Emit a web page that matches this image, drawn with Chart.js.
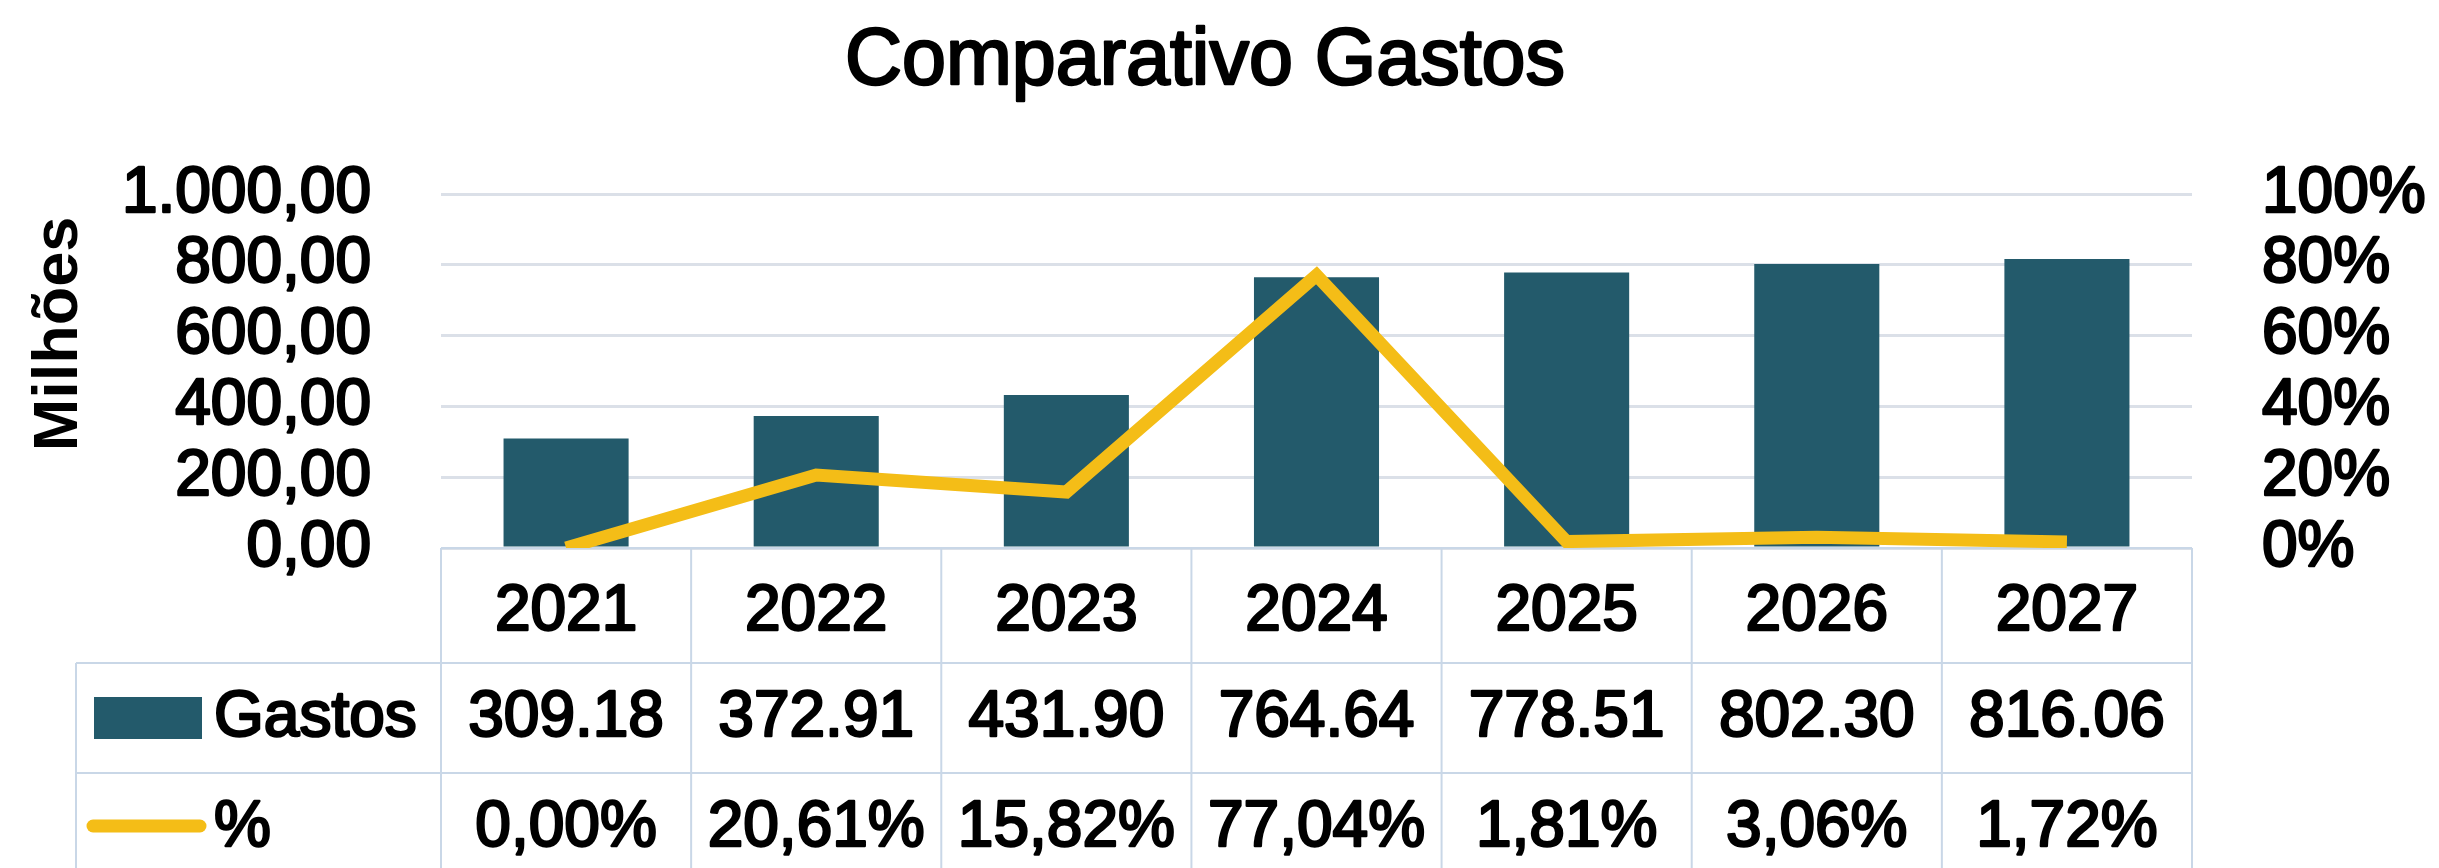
<!DOCTYPE html>
<html>
<head>
<meta charset="utf-8">
<title>Comparativo Gastos</title>
<script src="https://cdn.jsdelivr.net/npm/chart.js@4.4.1/dist/chart.umd.min.js"></script>
<style>
  html, body { margin: 0; padding: 0; background: #fff; }
  #wrap { width: 2439px; height: 868px; }
</style>
</head>
<body>
<div id="wrap"><canvas id="gastosChart" width="2439" height="868"></canvas></div>
<script>
// dados
const anos = ['2021', '2022', '2023', '2024', '2025', '2026', '2027'];
const gastos = [309.18, 372.91, 431.90, 764.64, 778.51, 802.30, 816.06];
const variacao = [0.00, 20.61, 15.82, 77.04, 1.81, 3.06, 1.72];
const ticksGastos = [0, 200, 400, 600, 800, 1000];
const ticksPct = [0, 20, 40, 60, 80, 100];

const COR_BARRA = '#235a6b';
const COR_LINHA = '#f4bd17';
const COR_GRADE = '#dbe0e8';
const COR_TABELA = '#c9d7e7';
const FONTE = "'Liberation Sans', Arial, Helvetica, sans-serif";
const TRACO = 2.5; // engrossa um pouco o texto, como no original

function fmtBR(v) {
    const [int, dec] = v.toFixed(2).split('.');
    return int.replace(/\B(?=(\d{3})+(?!\d))/g, '.') + ',' + dec;
}

function texto(ctx, str, x, y) {
    ctx.strokeText(str, x, y);
    ctx.fillText(str, x, y);
}

// tabela de dados abaixo do grafico (estilo Excel)
const tabelaDados = {
    id: 'tabelaDados',
    beforeDraw(chart) {
        const { ctx } = chart;
        ctx.lineJoin = 'round';
        ctx.save();
        ctx.fillStyle = '#fff';
        ctx.fillRect(0, 0, chart.width, chart.height);
        ctx.restore();
    },
    beforeDatasetsDraw(chart) {
        const { ctx, chartArea: area } = chart;
        const colW = (area.right - area.left) / anos.length;
        const linhas = [area.bottom, 663, 773, 883];
        const esq = 76;
        ctx.save();
        ctx.strokeStyle = COR_TABELA;
        ctx.lineWidth = 2;
        ctx.beginPath();
        ctx.moveTo(area.left, linhas[0]);
        ctx.lineTo(area.right, linhas[0]);
        linhas.slice(1).forEach(y => {
            ctx.moveTo(esq, y);
            ctx.lineTo(area.right, y);
        });
        for (let i = 0; i <= anos.length; i++) {
            const xx = area.left + i * colW;
            ctx.moveTo(xx, linhas[0]);
            ctx.lineTo(xx, chart.height);
        }
        ctx.moveTo(esq, linhas[1]);
        ctx.lineTo(esq, chart.height);
        ctx.stroke();
        ctx.restore();
    },
    afterDraw(chart) {
        const { ctx, scales: { x } } = chart;
        ctx.save();
        ctx.fillStyle = '#000';
        ctx.strokeStyle = '#000';
        ctx.lineWidth = TRACO;
        ctx.lineJoin = 'round';
        ctx.textBaseline = 'middle';

        // titulo
        ctx.textAlign = 'center';
        ctx.font = '79px ' + FONTE;
        texto(ctx, 'Comparativo Gastos', 1205, 62);

        ctx.font = '64px ' + FONTE;
        gastos.forEach((v, i) => texto(ctx, v.toFixed(2), x.getPixelForValue(i), 718));
        variacao.forEach((v, i) => texto(ctx, v.toFixed(2).replace('.', ',') + '%', x.getPixelForValue(i), 828));

        ctx.textAlign = 'left';
        texto(ctx, 'Gastos', 214, 718);
        texto(ctx, '%', 214, 828);

        // chaves da legenda
        ctx.fillStyle = COR_BARRA;
        ctx.fillRect(94, 697, 108, 42);
        ctx.strokeStyle = COR_LINHA;
        ctx.lineWidth = 13;
        ctx.lineCap = 'round';
        ctx.beginPath();
        ctx.moveTo(93, 826);
        ctx.lineTo(200, 826);
        ctx.stroke();

        // titulo do eixo
        ctx.fillStyle = '#000';
        ctx.translate(60, 334);
        ctx.rotate(-Math.PI / 2);
        ctx.textAlign = 'center';
        ctx.font = 'bold 63px ' + FONTE;
        ctx.fillText('Milhões', 0, 0);
        ctx.restore();
    }
};

const ticksBase = {
    color: '#000',
    font: { family: FONTE, size: 64 },
    textStrokeColor: '#000',
    textStrokeWidth: TRACO,
    autoSkip: false,
    maxRotation: 0
};

const ctx = document.getElementById('gastosChart').getContext('2d');
new Chart(ctx, {
    data: {
        labels: anos,
        datasets: [
            {
                type: 'line',
                label: '%',
                data: variacao,
                yAxisID: 'y1',
                borderColor: COR_LINHA,
                backgroundColor: COR_LINHA,
                borderWidth: 13,
                pointRadius: 0,
                tension: 0,
                order: 0
            },
            {
                type: 'bar',
                label: 'Gastos',
                data: gastos,
                yAxisID: 'y',
                backgroundColor: COR_BARRA,
                categoryPercentage: 1,
                barPercentage: 0.5,
                order: 1
            }
        ]
    },
    options: {
        responsive: false,
        animation: false,
        devicePixelRatio: 1,
        layout: { padding: { top: 194 } },
        plugins: {
            legend: { display: false },
            tooltip: { enabled: false },
            title: { display: false }
        },
        scales: {
            x: {
                type: 'category',
                offset: true,
                grid: { display: false },
                border: { display: false },
                ticks: { ...ticksBase, padding: 18 },
                afterFit: s => { s.height = 320; }
            },
            y: {
                position: 'left',
                min: 0,
                max: 1000,
                afterBuildTicks: s => { s.ticks = ticksGastos.map(v => ({ value: v })); },
                grid: { color: COR_GRADE, lineWidth: 3, drawTicks: false },
                border: { display: false },
                ticks: { ...ticksBase, padding: 70, callback: v => fmtBR(v) },
                afterFit: s => { s.width = 441; }
            },
            y1: {
                position: 'right',
                min: 0,
                max: 100,
                afterBuildTicks: s => { s.ticks = ticksPct.map(v => ({ value: v })); },
                grid: { drawOnChartArea: false, drawTicks: false },
                border: { display: false },
                ticks: { ...ticksBase, padding: 70, callback: v => v + '%' },
                afterFit: s => { s.width = 247; }
            }
        }
    },
    plugins: [tabelaDados]
});
</script>
</body>
</html>
